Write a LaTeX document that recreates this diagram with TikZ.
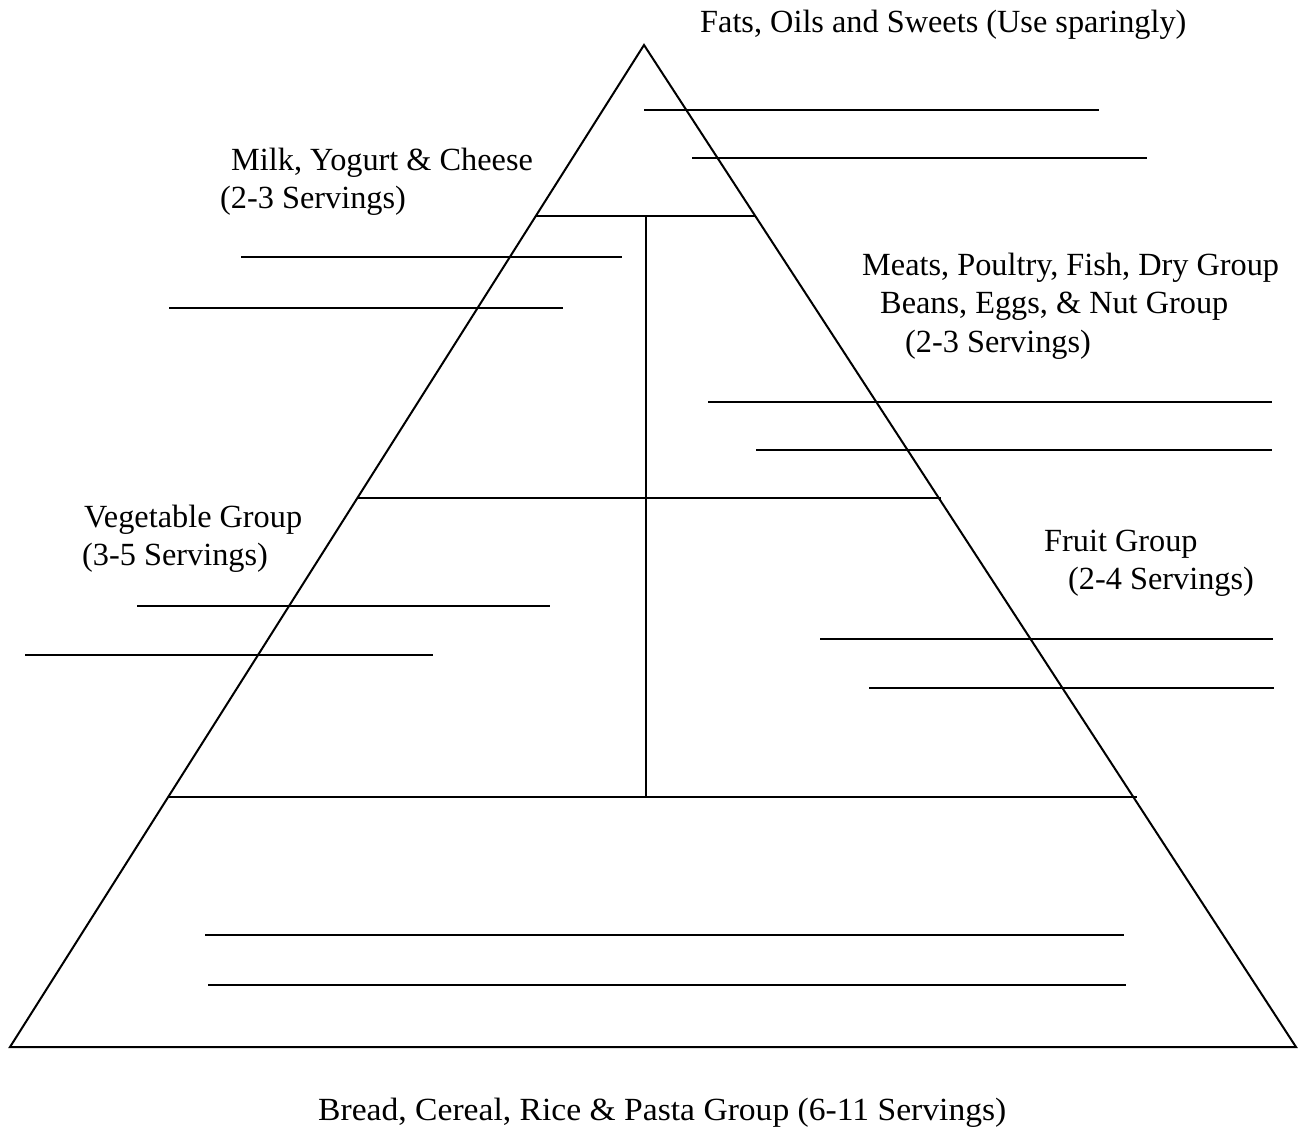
\documentclass[tikz,border=0pt]{standalone}
\usepackage{fontspec}
\setmainfont{Liberation Serif}
\begin{document}
\begin{tikzpicture}[x=1pt,y=-1pt,
  edge/.style={line width=2pt,line cap=butt},
  lbl/.style={anchor=base west,inner sep=0pt,font=\fontsize{32.3}{39}\selectfont}]
\useasboundingbox (0,0) rectangle (1303,1135);
% pyramid
\coordinate (apex) at (644,45);
\coordinate (bl) at (10,1047);
\coordinate (br) at (1296,1047);
\draw[edge,line join=miter] (apex) -- (bl) -- (br) -- cycle;
% tier lines
\coordinate (t1l) at (536,216); \coordinate (t1r) at (755,216);
\coordinate (t2l) at (357,498); \coordinate (t2r) at (941,498);
\coordinate (t3l) at (168,797); \coordinate (t3r) at (1137,797);
\coordinate (vtop) at (646,216); \coordinate (vbot) at (646,797);
\draw[edge] (t1l) -- (t1r);
\draw[edge] (t2l) -- (t2r);
\draw[edge] (t3l) -- (t3r);
\draw[edge] (vtop) -- (vbot);
% blank writing lines
\foreach \n/\xa/\xb/\yy in {a/644/1099/110, b/692/1147/158, c/241/622/257, d/169/563/308,
  e/708/1272/402, f/756/1272/450, g/137/550/606, h/25/433/655,
  i/820/1273/639, j/869/1274/688, k/205/1124/935, l/208/1126/985}{
  \coordinate (\n1) at (\xa,\yy);
  \coordinate (\n2) at (\xb,\yy);
  \draw[edge] (\n1) -- (\n2);
}
% labels
\node[lbl] (fats) at (700,32) {Fats, Oils and Sweets (Use sparingly)};
\node[lbl] (milk1) at (231,170) {Milk, Yogurt \& Cheese};
\node[lbl] (milk2) at (220,208) {(2-3 Servings)};
\node[lbl] (meat1) at (862,275) {Meats, Poultry, Fish, Dry Group};
\node[lbl] (meat2) at (880,313) {Beans, Eggs, \& Nut Group};
\node[lbl] (meat3) at (905,352) {(2-3 Servings)};
\node[lbl] (veg1) at (84,527) {Vegetable Group};
\node[lbl] (veg2) at (82,565) {(3-5 Servings)};
\node[lbl] (fruit1) at (1044,551) {Fruit Group};
\node[lbl] (fruit2) at (1068,589) {(2-4 Servings)};
\node[lbl,xscale=1.04] (bread) at (318,1120) {Bread, Cereal, Rice \& Pasta Group (6-11 Servings)};
\end{tikzpicture}
\end{document}
